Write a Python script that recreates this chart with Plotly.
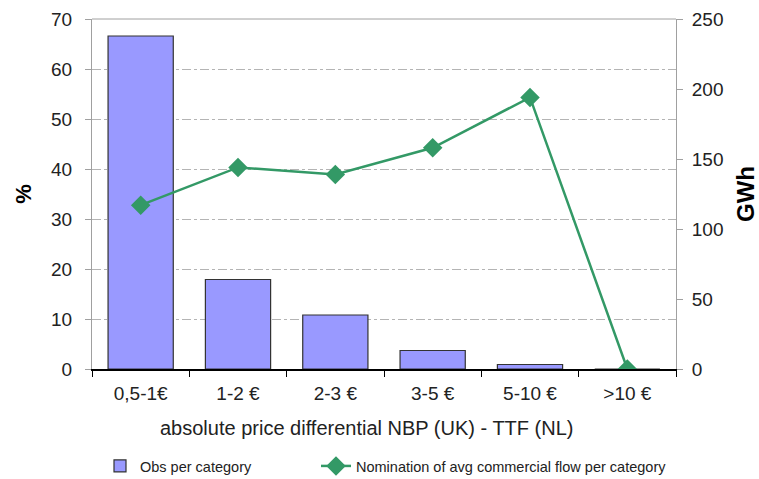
import plotly.graph_objects as go

categories = ["0,5-1€", "1-2 €", "2-3 €", "3-5 €", "5-10 €", ">10 €"]
obs_pct = [66.6, 17.9, 10.8, 3.7, 0.9, 0.0]
flow_gwh = [117, 144, 139, 158, 194, 0]

bar_name = "Obs per category"
line_name = "Nomination of avg commercial flow per category"
x_title = "absolute price differential NBP (UK) - TTF (NL)"

FONT = "Liberation Sans, Arial, sans-serif"
TEXT = "#222222"
GRID = "#b4b4b4"
AXIS_GRAY = "#a0a0a0"
W, H = 759, 479
L, R, T, B = 92, 83, 19, 110
PW, PH = W - L - R, H - T - B

fig = go.Figure()

fig.add_trace(go.Bar(
    x=categories, y=obs_pct, name=bar_name,
    marker=dict(color="#9999FF", line=dict(color="#333333", width=1.2)),
    width=0.67, yaxis="y", legend="legend",
))

fig.add_trace(go.Scatter(
    x=categories, y=flow_gwh, name=line_name, mode="lines+markers",
    line=dict(color="#339966", width=2.5),
    marker=dict(symbol="diamond", size=15, color="#339966"),
    yaxis="y2", legend="legend2",
))

legend_common = dict(
    orientation="h", xref="container", yref="container",
    xanchor="left", yanchor="middle", y=1 - 466 / H,
    font=dict(size=14.5, color=TEXT), itemwidth=30,
    bgcolor="rgba(0,0,0,0)", borderwidth=0,
)

fig.update_layout(
    width=W, height=H,
    margin=dict(l=L, r=R, t=T, b=B, autoexpand=False),
    paper_bgcolor="white", plot_bgcolor="white",
    font=dict(family=FONT, size=19, color=TEXT),
    showlegend=True,
    legend=dict(legend_common, x=100 / W),
    legend2=dict(legend_common, x=316 / W),
    xaxis=dict(
        type="category", tickson="boundaries", ticks="outside", ticklen=6,
        tickcolor="#000000", showline=True, linecolor="#000000", linewidth=1.5,
        showgrid=False, tickfont=dict(size=19, color=TEXT), ticklabelstandoff=6,
        range=[-0.5, 5.5],
    ),
    yaxis=dict(
        range=[0, 70], dtick=10, ticks="outside", ticklen=6, tickcolor=AXIS_GRAY,
        showline=True, linecolor=AXIS_GRAY, linewidth=1,
        showgrid=True, gridcolor=GRID, griddash="dashdot", gridwidth=1,
        zeroline=False, tickfont=dict(size=19, color=TEXT), ticklabelstandoff=9,
        title=dict(text="<b>%</b>", font=dict(size=22, color="#000000"), standoff=13),
    ),
    yaxis2=dict(
        range=[0, 250], dtick=50, overlaying="y", side="right",
        ticks="outside", ticklen=6, tickcolor=AXIS_GRAY,
        showline=True, linecolor=AXIS_GRAY, linewidth=1,
        showgrid=False, zeroline=False, tickfont=dict(size=19, color=TEXT),
        ticklabelstandoff=5,
        title=dict(text="<b>GWh</b>", font=dict(size=24, color="#000000"), standoff=18),
    ),
    bargap=0.33,
    shapes=[dict(type="line", xref="paper", yref="paper", x0=0, x1=1, y0=1, y1=1,
                 line=dict(color=AXIS_GRAY, width=1))],
    annotations=[dict(
        text=x_title, xref="paper", yref="paper",
        x=(366 - L) / PW, y=-(428 - (T + PH)) / PH,
        xanchor="center", yanchor="middle", showarrow=False,
        font=dict(size=20, color=TEXT),
    )],
)

fig.write_html("out.html")
